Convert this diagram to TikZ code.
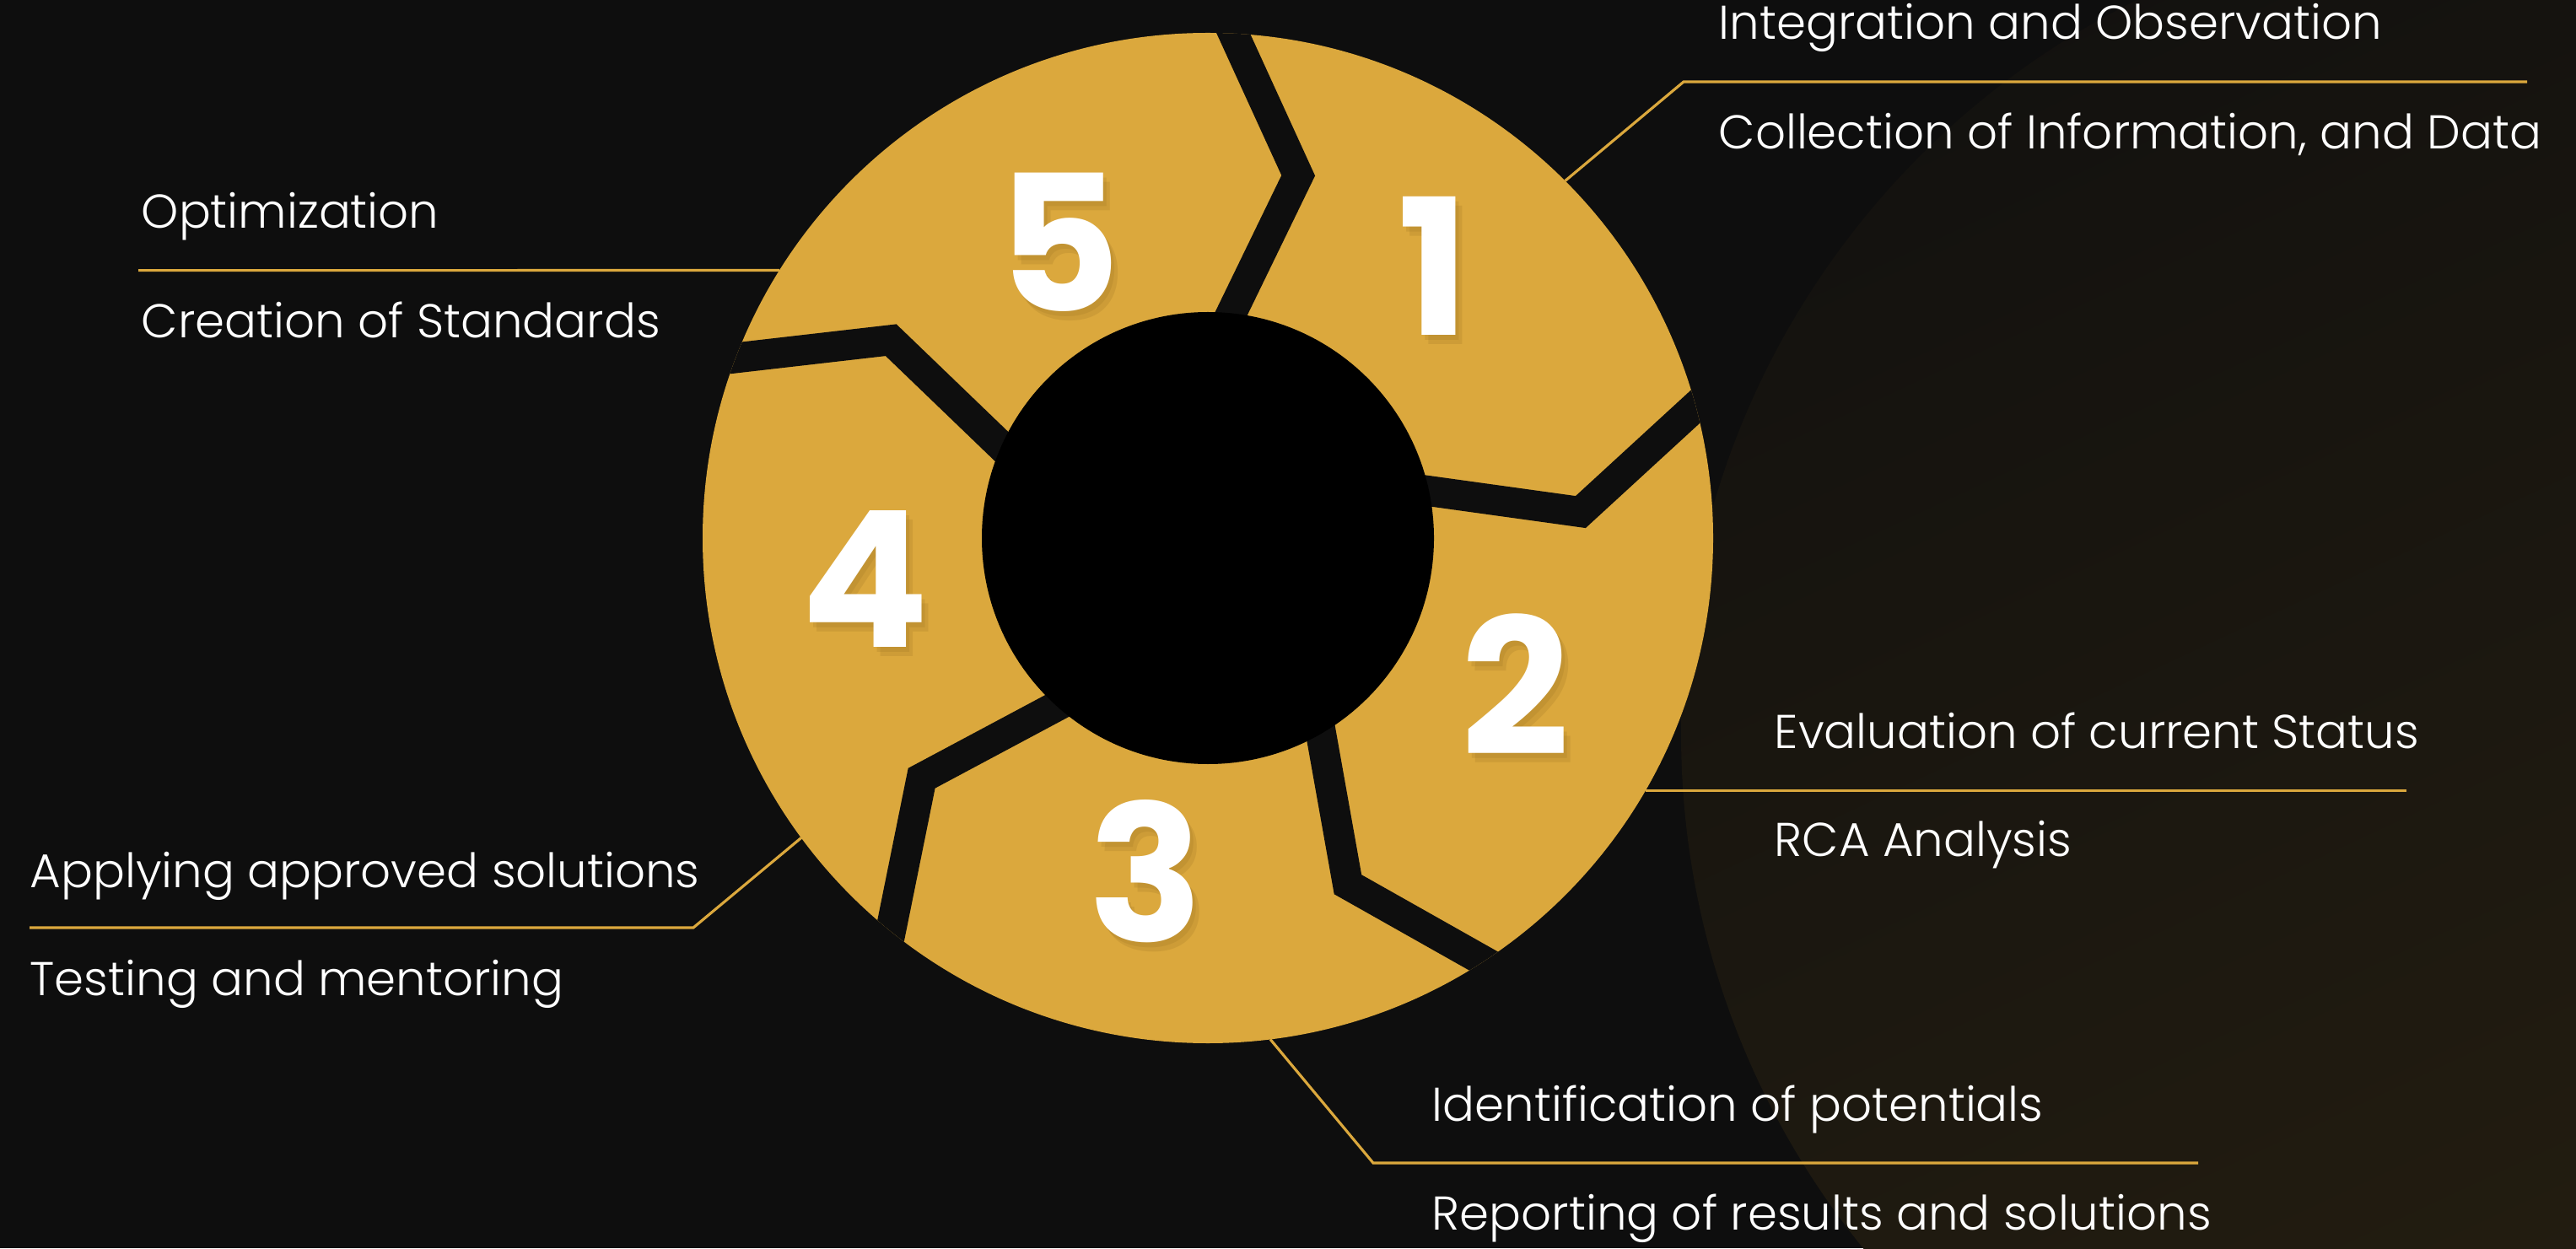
\documentclass[tikz,border=0pt]{standalone}
\usepackage{fontspec}
\IfFontExistsTF{Poppins Light}
  {\setmainfont{Poppins Light}[BoldFont={Poppins Bold}]}
  {\setmainfont{Poppins}}
\usepackage{tikz}
\usetikzlibrary{calc}
\usetikzlibrary{positioning}

\definecolor{bgdark}{HTML}{0E0E0E}
\definecolor{ringgold}{HTML}{DBA83D}
\definecolor{goldshade}{HTML}{9C7424}
\definecolor{glowend}{HTML}{261F11}

\begin{document}
\begin{tikzpicture}[
  gap/.style={draw=bgdark,line width=0.36cm,line join=miter},
  lead/.style={draw=ringgold,line width=0.9pt},
  label/.style={anchor=base west,inner sep=0pt,text=white,font=\fontsize{16}{19}\selectfont},
  stepnum/.style={inner sep=0pt,text=white,font=\fontsize{64}{70}\selectfont\bfseries},
  numshadow/.style={stepnum,text=goldshade,opacity=0.22}]

    % canvas and background glow
    \useasboundingbox (0,0) rectangle (30.54,14.80);
    \fill[bgdark] (0,0) rectangle (30.54,14.80);
    \begin{scope}
        \clip (0,0) rectangle (30.54,14.80);
        \shade[top color=bgdark!80!glowend, bottom color=glowend, shading angle=25]
            (29.63,6.10) circle (9.70);
    \end{scope}

    % ring
    \coordinate (c) at (14.32,8.42);
    \fill[ringgold] (c) circle (5.99);
    \begin{scope}
        \clip (c) circle (5.99);
        \foreach \a in {89,17,-55,-127,-199}
            \draw[gap] ($(c)+(\a:6.4)$) -- ($(c)+(\a-13:4.43)$) -- ($(c)+(\a-1.5:2.3)$);
    \end{scope}
    \fill[black] (c) circle (2.68);

    % numbers, with a soft shadow
    \foreach \n/\x/\y in {1/17.00/11.65, 2/17.97/6.68, 3/13.59/4.47, 4/10.26/7.93, 5/12.56/11.93} {
        \node[numshadow] at (\x+0.08,\y-0.11) {\n};
        \node[numshadow] at (\x+0.04,\y-0.06) {\n};
        \node[stepnum] (num\n) at (\x,\y) {\n};
    }

    % leader lines
    \coordinate (r1) at ($(c)+(45:5.99)$);
    \coordinate (k1) at (19.96,13.83);
    \coordinate (e1) at (29.96,13.83);
    \draw[lead] (r1) -- (k1) -- (e1);

    \coordinate (r5) at ($(c)+(148:5.99)$);
    \coordinate (e5) at (1.64,11.594);
    \draw[lead] (r5) -- (e5);

    \coordinate (r2) at ($(c)+(-30:5.99)$);
    \coordinate (e2) at (28.53,5.425);
    \draw[lead] (r2) -- (e2);

    \coordinate (r4) at ($(c)+(216.4:5.99)$);
    \coordinate (k4) at (8.22,3.80);
    \coordinate (e4) at (0.35,3.80);
    \draw[lead] (r4) -- (k4) -- (e4);

    \coordinate (r3) at ($(c)+(-82.9:5.99)$);
    \coordinate (k3) at (16.28,1.01);
    \coordinate (e3) at (26.06,1.01);
    \draw[lead] (r3) -- (k3) -- (e3);

    % labels
    \node[label] (obs)  at (20.37,14.33) {Integration and Observation};
    \node[label] (data) at (20.37,13.03) {Collection of Information, and Data};
    \node[label] (opt)  at (1.67,12.09) {Optimization};
    \node[label] (std)  at (1.67,10.79) {Creation of Standards};
    \node[label] (eval) at (21.03,5.93) {Evaluation of current Status};
    \node[label] (rca)  at (21.03,4.65) {RCA Analysis};
    \node[label] (appl) at (0.35,4.28) {Applying approved solutions};
    \node[label] (test) at (0.35,3.00) {Testing and mentoring};
    \node[label] (pot)  at (16.97,1.51) {Identification of potentials};
    \node[label] (rep)  at (16.97,0.22) {Reporting of results and solutions};
\end{tikzpicture}
\end{document}
